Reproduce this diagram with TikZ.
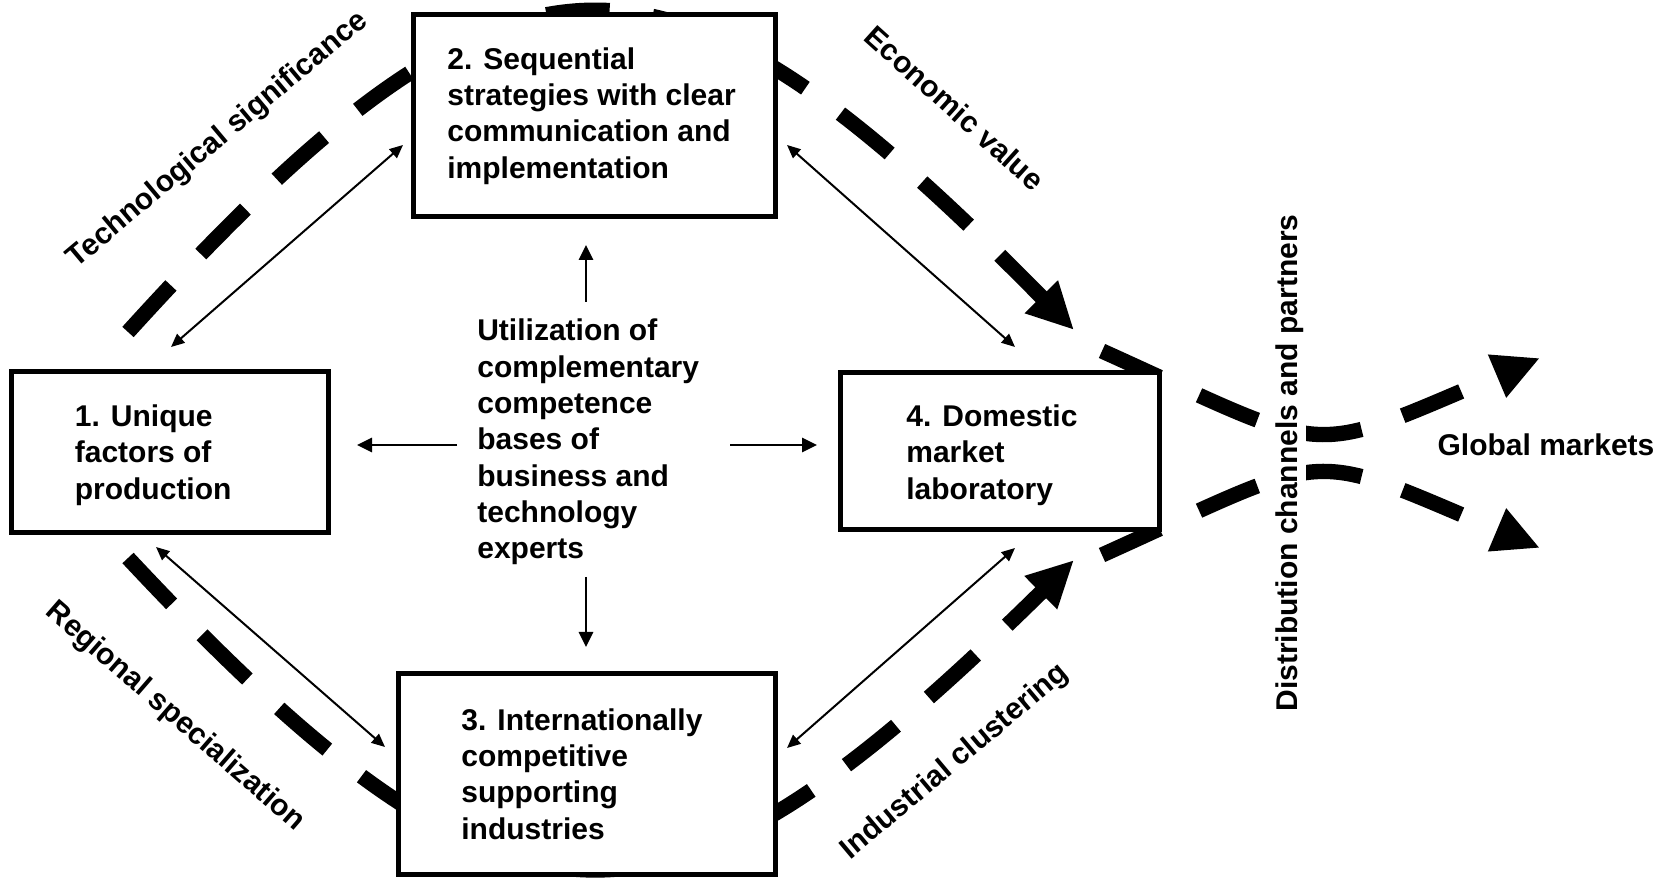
\documentclass[tikz,border=0pt]{standalone}
\usepackage{fontspec}
\setmainfont{Liberation Sans}
\usetikzlibrary{arrows.meta}
\begin{document}
\begin{tikzpicture}[x=0.6pt,y=-0.6pt,
  txt/.style={font=\fontsize{18}{21.8}\selectfont\bfseries, align=left, inner sep=0pt, anchor=west},
  lbl/.style={font=\fontsize{18}{21.8}\selectfont\bfseries, inner sep=0pt},
  box/.style={draw, line width=3pt, fill=white, inner sep=0pt},
  bigdash/.style={line width=9.2pt, dash pattern=on 38pt off 26pt},
  bighead/.style={-{Triangle[length=28pt,width=26pt]}},
  dblarrow/.style={line width=1.2pt, {Triangle[length=8pt,width=7pt]}-{Triangle[length=8pt,width=7pt]}},
  onearrow/.style={line width=1.6pt, -{Triangle[length=9pt,width=8.5pt]}},
]
\useasboundingbox (0,0) rectangle (1669,879);

% end points of the connectors
\coordinate (arcTs) at (128,332);
\coordinate (arcTe) at (1074,330);
\coordinate (arcBs) at (128,558);
\coordinate (arcBe) at (1074,560);
\coordinate (disUs) at (1102,351);
\coordinate (disUe) at (1540,358);
\coordinate (disLs) at (1102,555);
\coordinate (disLe) at (1540,548);

% big dashed arcs
\draw[bigdash, bighead] (arcTs) .. controls (519,-99) and (666,-84) .. (arcTe);
\draw[bigdash, bighead] (arcBs) .. controls (519,976) and (666,961) .. (arcBe);
\draw[bigdash, bighead] (disUs) .. controls (1337,457) and (1301,459) .. (disUe);
\draw[bigdash, bighead] (disLs) .. controls (1337,449) and (1301,447) .. (disLe);

% boxes
\node[box, minimum width=190.2pt, minimum height=96.6pt] (b1) at (169.5,452.5) {};
\node[box, minimum width=217.2pt, minimum height=121.2pt] (b2) at (594,116) {};
\node[box, minimum width=226.2pt, minimum height=120.6pt] (b3) at (586.5,773.5) {};
\node[box, minimum width=191.4pt, minimum height=94.2pt] (b4) at (999.5,451.5) {};

% box texts
\node[txt] (t1) at (74.5,455) {1. Unique\\factors of\\production};
\node[txt] (t2) at (447,116) {2. Sequential\\strategies with clear\\communication and\\implementation};
\node[txt] (t3) at (461,774) {3. Internationally\\competitive\\supporting\\industries};
\node[txt] (t4) at (906,455) {4. Domestic\\market\\laboratory};
\node[txt] (tc) at (477,442) {Utilization of\\complementary\\competence\\bases of\\business and\\technology\\experts};

% labels
\node[lbl, rotate=40] (lTech) at (218,140) {Technological significance};
\node[lbl, rotate=-42] (lEcon) at (955,108) {Economic value};
\node[lbl, rotate=-41] (lReg) at (175,717) {Regional specialization};
\node[lbl, rotate=40] (lInd) at (955,762) {Industrial clustering};
\node[lbl, rotate=90, fill=white, inner sep=1pt] (lDist) at (1290,463) {Distribution channels and partners};
\node[lbl] (lGlob) at (1546,445) {Global markets};

% thin double arrows
\coordinate (d12a) at (171,347);
\coordinate (d12b) at (403,145);
\coordinate (d24a) at (787,145);
\coordinate (d24b) at (1015,347);
\coordinate (d13a) at (156,547);
\coordinate (d13b) at (385,747);
\coordinate (d34a) at (787,748);
\coordinate (d34b) at (1015,548);
\draw[dblarrow] (d12a) -- (d12b);
\draw[dblarrow] (d24a) -- (d24b);
\draw[dblarrow] (d13a) -- (d13b);
\draw[dblarrow] (d34a) -- (d34b);

% arrows out of the centre text
\coordinate (cu1) at (586,302);
\coordinate (cu2) at (586,245);
\coordinate (cd1) at (586,577);
\coordinate (cd2) at (586,647);
\coordinate (cl1) at (457,445);
\coordinate (cl2) at (357,445);
\coordinate (cr1) at (730,445);
\coordinate (cr2) at (817,445);
\draw[onearrow] (cu1) -- (cu2);
\draw[onearrow] (cd1) -- (cd2);
\draw[onearrow] (cl1) -- (cl2);
\draw[onearrow] (cr1) -- (cr2);
\end{tikzpicture}
\end{document}
